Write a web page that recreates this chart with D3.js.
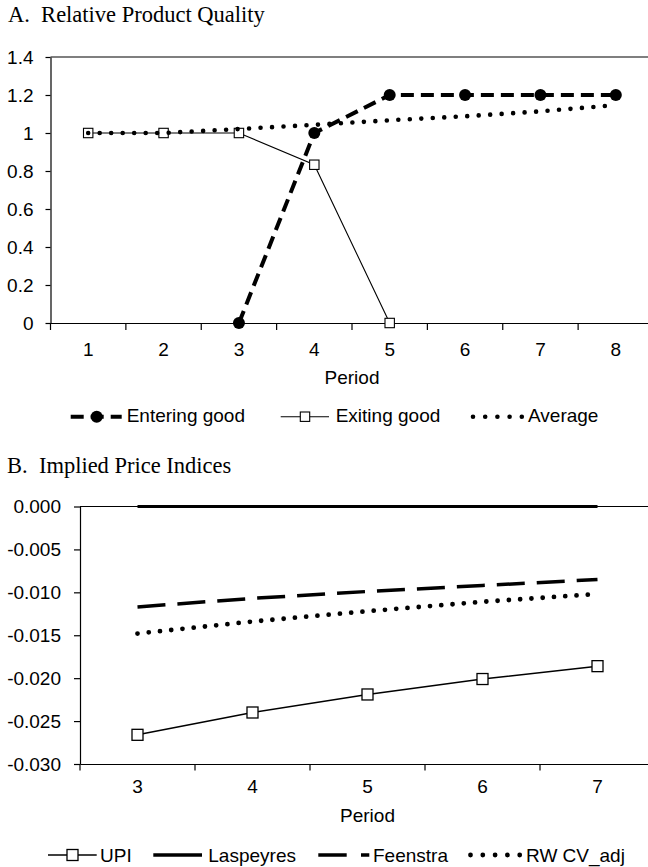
<!DOCTYPE html>
<html>
<head>
<meta charset="utf-8">
<script src="https://cdn.jsdelivr.net/npm/d3@7"></script>
<style>
  html, body { margin: 0; padding: 0; background: #fff; }
  svg { display: block; }
  text { font-family: "Liberation Sans", Arial, sans-serif; fill: #000; }
  .title { font-family: "Liberation Serif", "Times New Roman", serif; font-size: 22.5px; }
</style>
</head>
<body>
<svg id="chart" width="648" height="867"></svg>
<script>
// ---------- Data: Panel A ----------
const periodsA = ["1", "2", "3", "4", "5", "6", "7", "8"];
const enteringGood = [null, null, 0, 1, 1.2, 1.2, 1.2, 1.2];
const exitingGood = [1, 1, 1, 0.833, 0, null, null, null];
const averageQuality = [1, 1, 1.021, 1.043, 1.067, 1.088, 1.114, 1.147];
const yTicksA = [0, 0.2, 0.4, 0.6, 0.8, 1, 1.2, 1.4];
const yTickLabelsA = ["0", "0.2", "0.4", "0.6", "0.8", "1", "1.2", "1.4"];

// ---------- Data: Panel B ----------
const periodsB = ["3", "4", "5", "6", "7"];
const upi = [-0.0266, -0.0240, -0.0219, -0.0201, -0.0186];
const laspeyres = [0, 0, 0, 0, 0];
const feenstra = [-0.0117, -0.0107, -0.0099, -0.0092, -0.0085];
const rwCvAdj = [-0.0148, -0.0134, -0.0122, -0.0111, -0.0102];
const yTicksB = [0, -0.005, -0.010, -0.015, -0.020, -0.025, -0.030];
const yTickLabelsB = ["0.000", "-0.005", "-0.010", "-0.015", "-0.020", "-0.025", "-0.030"];

const svg = d3.select("#chart");
svg.append("rect").attr("width", 648).attr("height", 867).attr("fill", "#fff");
const FS = 19;

function styleAxis(g) {
  g.attr("font-family", "Liberation Sans, Arial, sans-serif").attr("font-size", FS);
  g.selectAll("path.domain").attr("stroke", "#000").attr("stroke-width", 1.2);
  g.selectAll(".tick line").attr("stroke", "#000").attr("stroke-width", 1.2);
  g.selectAll(".tick text").attr("fill", "#000");
}

// ================= PANEL A =================
const gA = svg.append("g");
gA.append("text").attr("class", "title").attr("x", 8).attr("y", 22)
  .attr("xml:space", "preserve").text("A.  Relative Product Quality");

const xA = d3.scaleBand().domain(periodsA).range([50.5, 653.5]);
const yA = d3.scaleLinear().domain([0, 1.4]).range([323, 57]);
const cxA = p => xA(p) + xA.bandwidth() / 2;

gA.append("line").attr("x1", 50.5).attr("x2", 660).attr("y1", yA(1.4)).attr("y2", yA(1.4))
  .attr("stroke", "#000").attr("stroke-width", 1.2);

const yAxisA = gA.append("g").attr("transform", "translate(50.5,0)")
  .call(d3.axisLeft(yA).tickValues(yTicksA).tickFormat((d, i) => yTickLabelsA[i])
    .tickSize(5).tickSizeOuter(0).tickPadding(12));
styleAxis(yAxisA);

const xAxisA = gA.append("g").attr("transform", `translate(0,${yA(0)})`)
  .call(d3.axisBottom(xA).tickSize(0).tickSizeOuter(0).tickPadding(20));
styleAxis(xAxisA);
xAxisA.selectAll("line.bnd").data(periodsA).enter().append("line").attr("class", "bnd")
  .attr("x1", d => xA(d)).attr("x2", d => xA(d)).attr("y1", 0).attr("y2", 7)
  .attr("stroke", "#000").attr("stroke-width", 1.2);

gA.append("text").attr("x", (xA.range()[0] + xA.range()[1]) / 2).attr("y", 384)
  .attr("text-anchor", "middle").attr("font-size", FS).text("Period");

const lineA = d3.line().defined(d => d.v != null).x(d => cxA(d.p)).y(d => yA(d.v));
const ser = (arr, periods) => periods.map((p, i) => ({ p: p, v: arr[i] }));

// Exiting good
gA.append("path").datum(ser(exitingGood, periodsA)).attr("d", lineA)
  .attr("fill", "none").attr("stroke", "#000").attr("stroke-width", 1.1);
gA.selectAll("rect.exit").data(ser(exitingGood, periodsA).filter(d => d.v != null))
  .enter().append("rect").attr("class", "exit")
  .attr("x", d => cxA(d.p) - 4.7).attr("y", d => yA(d.v) - 4.7)
  .attr("width", 9.4).attr("height", 9.4)
  .attr("fill", "#fff").attr("stroke", "#000").attr("stroke-width", 1.1);

// Entering good
gA.append("path").datum(ser(enteringGood, periodsA)).attr("d", lineA)
  .attr("fill", "none").attr("stroke", "#000").attr("stroke-width", 4)
  .attr("stroke-dasharray", "13,7");
gA.selectAll("circle.ent").data(ser(enteringGood, periodsA).filter(d => d.v != null))
  .enter().append("circle").attr("class", "ent")
  .attr("cx", d => cxA(d.p)).attr("cy", d => yA(d.v)).attr("r", 6).attr("fill", "#000");

// Average
gA.append("path").datum(ser(averageQuality, periodsA)).attr("d", lineA)
  .attr("fill", "none").attr("stroke", "#000").attr("stroke-width", 4.6)
  .attr("stroke-linecap", "round").attr("stroke-dasharray", "0,11.5");

// Legend A
const legA = gA.append("g");
const lyA = 416.7;
legA.append("line").attr("x1", 70.7).attr("x2", 121.7).attr("y1", lyA).attr("y2", lyA)
  .attr("stroke", "#000").attr("stroke-width", 4).attr("stroke-dasharray", "13,7");
legA.append("circle").attr("cx", 96.7).attr("cy", lyA).attr("r", 6).attr("fill", "#000");
legA.append("text").attr("x", 126.7).attr("y", 421.7).attr("font-size", FS).text("Entering good");

legA.append("line").attr("x1", 280.7).attr("x2", 329).attr("y1", lyA).attr("y2", lyA)
  .attr("stroke", "#000").attr("stroke-width", 1.1);
legA.append("rect").attr("x", 305 - 4.7).attr("y", lyA - 4.7).attr("width", 9.4).attr("height", 9.4)
  .attr("fill", "#fff").attr("stroke", "#000").attr("stroke-width", 1.1);
legA.append("text").attr("x", 335.7).attr("y", 421.7).attr("font-size", FS).text("Exiting good");

legA.append("line").attr("x1", 473).attr("x2", 522).attr("y1", lyA).attr("y2", lyA)
  .attr("stroke", "#000").attr("stroke-width", 4.6).attr("stroke-linecap", "round")
  .attr("stroke-dasharray", "0,12.2");
legA.append("text").attr("x", 528).attr("y", 421.7).attr("font-size", FS).text("Average");

// ================= PANEL B =================
const gB = svg.append("g");
gB.append("text").attr("class", "title").attr("x", 7).attr("y", 473)
  .attr("xml:space", "preserve").text("B.  Implied Price Indices");

const xB = d3.scaleBand().domain(periodsB).range([80, 655]);
const yB = d3.scaleLinear().domain([-0.03, 0]).range([764, 506.5]);
const cxB = p => xB(p) + xB.bandwidth() / 2;

gB.append("line").attr("x1", 80).attr("x2", 660).attr("y1", yB(0)).attr("y2", yB(0))
  .attr("stroke", "#000").attr("stroke-width", 1.2);

const yAxisB = gB.append("g").attr("transform", "translate(80,0)")
  .call(d3.axisLeft(yB).tickValues(yTicksB).tickFormat((d, i) => yTickLabelsB[i])
    .tickSize(6).tickSizeOuter(0).tickPadding(13));
styleAxis(yAxisB);

const xAxisB = gB.append("g").attr("transform", `translate(0,${yB(-0.03)})`)
  .call(d3.axisBottom(xB).tickSize(0).tickSizeOuter(0).tickPadding(16));
styleAxis(xAxisB);
xAxisB.selectAll("line.bnd").data(periodsB).enter().append("line").attr("class", "bnd")
  .attr("x1", d => xB(d)).attr("x2", d => xB(d)).attr("y1", 0).attr("y2", 6.5)
  .attr("stroke", "#000").attr("stroke-width", 1.2);

gB.append("text").attr("x", (xB.range()[0] + xB.range()[1]) / 2).attr("y", 821.7)
  .attr("text-anchor", "middle").attr("font-size", FS).text("Period");

const lineB = d3.line().x(d => cxB(d.p)).y(d => yB(d.v));

// UPI
gB.append("path").datum(ser(upi, periodsB)).attr("d", lineB)
  .attr("fill", "none").attr("stroke", "#000").attr("stroke-width", 1.5);
gB.selectAll("rect.upi").data(ser(upi, periodsB)).enter().append("rect").attr("class", "upi")
  .attr("x", d => cxB(d.p) - 5.5).attr("y", d => yB(d.v) - 5.5)
  .attr("width", 11).attr("height", 11)
  .attr("fill", "#fff").attr("stroke", "#000").attr("stroke-width", 1.3);

// Laspeyres
gB.append("path").datum(ser(laspeyres, periodsB)).attr("d", lineB)
  .attr("fill", "none").attr("stroke", "#000").attr("stroke-width", 3.2);

// Feenstra
gB.append("path").datum(ser(feenstra, periodsB)).attr("d", lineB)
  .attr("fill", "none").attr("stroke", "#000").attr("stroke-width", 3.5)
  .attr("stroke-dasharray", "28,12");

// RW CV_adj
gB.append("path").datum(ser(rwCvAdj, periodsB)).attr("d", lineB)
  .attr("fill", "none").attr("stroke", "#000").attr("stroke-width", 4.8)
  .attr("stroke-linecap", "round").attr("stroke-dasharray", "0,11.3");

// Legend B
const legB = gB.append("g");
const lyB = 855;
const tyB = 861.7;
legB.append("line").attr("x1", 48).attr("x2", 96.7).attr("y1", lyB).attr("y2", lyB)
  .attr("stroke", "#000").attr("stroke-width", 1.5);
legB.append("rect").attr("x", 72.5 - 5.5).attr("y", lyB - 5.5).attr("width", 11).attr("height", 11)
  .attr("fill", "#fff").attr("stroke", "#000").attr("stroke-width", 1.3);
legB.append("text").attr("x", 100).attr("y", tyB).attr("font-size", FS).text("UPI");

legB.append("line").attr("x1", 153.3).attr("x2", 202).attr("y1", lyB).attr("y2", lyB)
  .attr("stroke", "#000").attr("stroke-width", 3.6);
legB.append("text").attr("x", 208.3).attr("y", tyB).attr("font-size", FS).text("Laspeyres");

legB.append("line").attr("x1", 318.3).attr("x2", 369.3).attr("y1", lyB).attr("y2", lyB)
  .attr("stroke", "#000").attr("stroke-width", 3.6).attr("stroke-dasharray", "28.4,14.3");
legB.append("text").attr("x", 373).attr("y", tyB).attr("font-size", FS).text("Feenstra");

legB.append("line").attr("x1", 470.5).attr("x2", 520).attr("y1", lyB).attr("y2", lyB)
  .attr("stroke", "#000").attr("stroke-width", 4.8).attr("stroke-linecap", "round")
  .attr("stroke-dasharray", "0,12.3");
legB.append("text").attr("x", 526).attr("y", tyB).attr("font-size", FS).text("RW CV_adj");
</script>
</body>
</html>
